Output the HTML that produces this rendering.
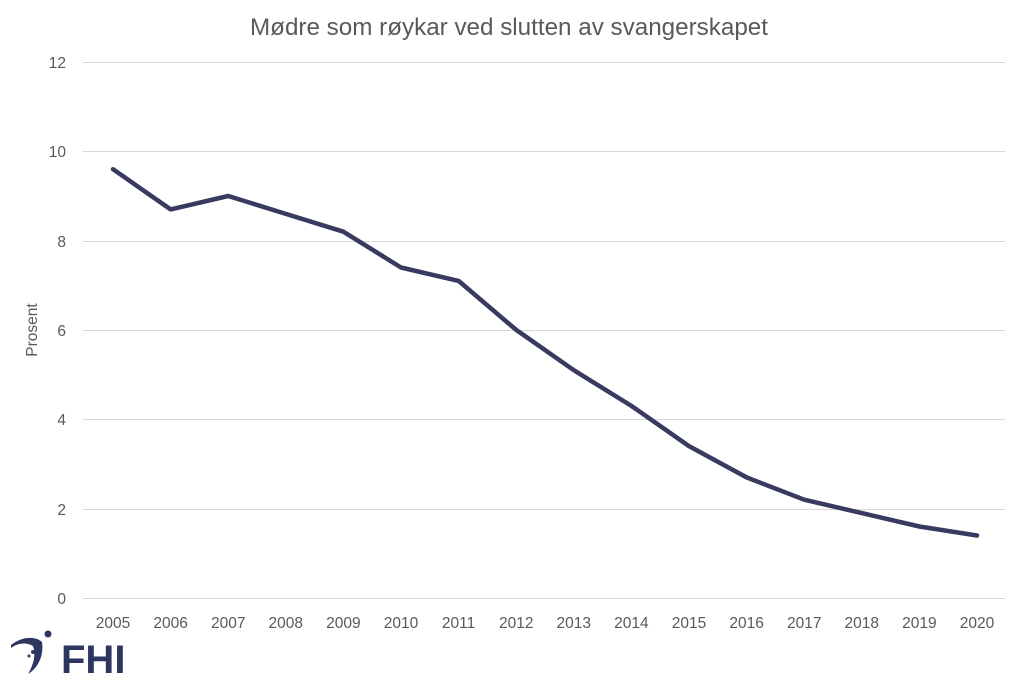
<!DOCTYPE html>
<html><head><meta charset="utf-8"><style>
html,body{margin:0;padding:0;background:#fff;}
svg{display:block;font-family:"Liberation Sans",sans-serif;}
</style></head><body>
<svg width="1021" height="680" viewBox="0 0 1021 680" xmlns="http://www.w3.org/2000/svg">
<rect width="1021" height="680" fill="#fff"/>
<text x="509" y="35" text-anchor="middle" font-size="24" fill="#595959" textLength="518" lengthAdjust="spacingAndGlyphs">Mødre som røykar ved slutten av svangerskapet</text>
<g stroke="#d9d9d9" stroke-width="1">
<line x1="83" x2="1005" y1="62.5" y2="62.5"/>
<line x1="83" x2="1005" y1="151.5" y2="151.5"/>
<line x1="83" x2="1005" y1="241.5" y2="241.5"/>
<line x1="83" x2="1005" y1="330.5" y2="330.5"/>
<line x1="83" x2="1005" y1="419.5" y2="419.5"/>
<line x1="83" x2="1005" y1="509.5" y2="509.5"/>
<line x1="83" x2="1005" y1="598.5" y2="598.5"/>
</g>
<g font-size="15.5" fill="#595959" text-anchor="end">
<text x="66" y="68">12</text>
<text x="66" y="157">10</text>
<text x="66" y="247">8</text>
<text x="66" y="336">6</text>
<text x="66" y="425">4</text>
<text x="66" y="515">2</text>
<text x="66" y="604">0</text>
</g>
<text transform="translate(37,330) rotate(-90)" text-anchor="middle" font-size="15.5" fill="#595959">Prosent</text>
<g font-size="15.5" fill="#595959" text-anchor="middle">
<text x="113" y="628">2005</text><text x="170.6" y="628">2006</text><text x="228.2" y="628">2007</text><text x="285.8" y="628">2008</text>
<text x="343.4" y="628">2009</text><text x="401" y="628">2010</text><text x="458.6" y="628">2011</text><text x="516.2" y="628">2012</text>
<text x="573.8" y="628">2013</text><text x="631.4" y="628">2014</text><text x="689" y="628">2015</text><text x="746.6" y="628">2016</text>
<text x="804.2" y="628">2017</text><text x="861.8" y="628">2018</text><text x="919.4" y="628">2019</text><text x="977" y="628">2020</text>
</g>
<polyline fill="none" stroke="#383a5f" stroke-width="4.5" stroke-linejoin="round" stroke-linecap="round"
points="113,169.2 170.6,209.4 228.2,196 285.8,213.9 343.4,231.7 401,267.5 458.6,280.9 516.2,329.9 573.8,370.2 631.4,405.9 689,446.1 746.6,477.4 804.2,499.7 861.8,513.1 919.4,526.5 977,535.5"/>
<g fill="#2d3561">
<path d="M11,645 C22,636 36,636 42,642 C44,656 38,668 28,674 C34,664 36,654 33,646 C26,642 18,643 11,648 Z"/>
<circle cx="48" cy="634" r="3.5"/>
<circle cx="33" cy="652" r="2"/>
<circle cx="29" cy="656" r="1.5"/>
<text x="61" y="673" font-size="40" font-weight="bold" fill="#2d3561">FHI</text>
</g>
</svg>
</body></html>
